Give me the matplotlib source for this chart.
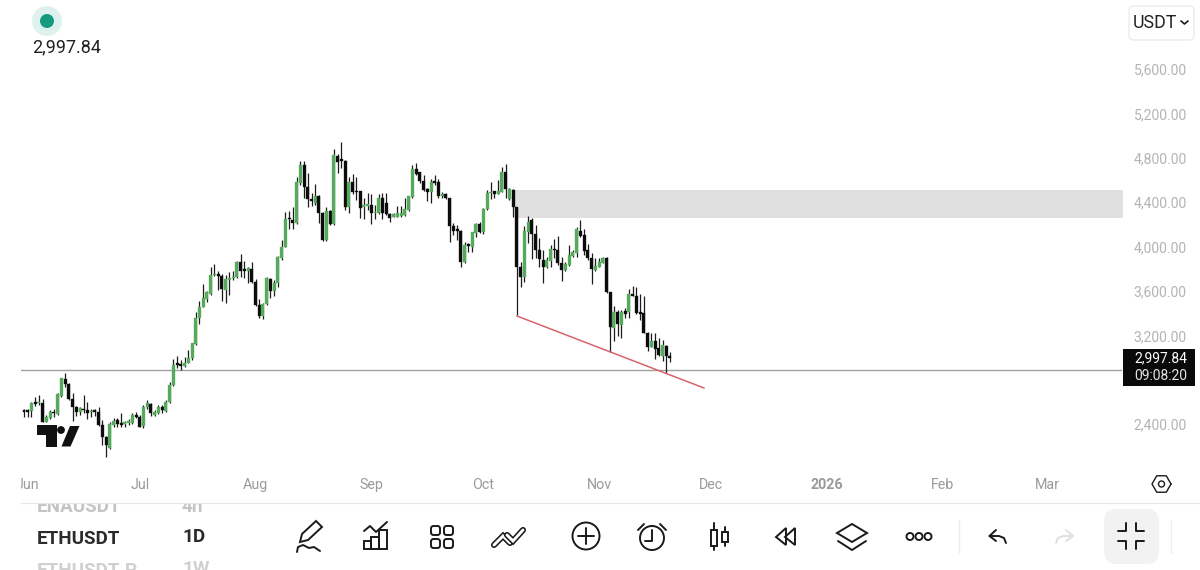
import numpy as np
import matplotlib
matplotlib.use("Agg")
import matplotlib.pyplot as plt
from matplotlib.patches import Circle, FancyBboxPatch, Polygon, Rectangle

plt.rcParams['font.family'] = ['Roboto', 'DejaVu Sans']

# ETHUSDT daily candles
opens = [2519,2519,2522,2594,2588,2594,2417,2453,2513,2492,
         2654,2804,2759,2624,2558,2513,2534,2528,2507,2522,
         2507,2393,2282,2183,2393,2438,2408,2402,2408,2414,
         2483,2468,2384,2552,2582,2483,2504,2552,2522,2597,
         2753,2942,2942,2924,2954,2995,3124,3355,3460,3529,
         3574,3742,3751,3739,3610,3700,3715,3724,3859,3790,
         3784,3799,3685,3475,3376,3484,3706,3601,3670,3895,
         4000,4255,4240,4210,4576,4735,4534,4429,4396,4459,
         4300,4060,4321,4204,4816,4780,4774,4354,4585,4501,
         4501,4354,4366,4375,4300,4306,4435,4396,4294,4264,
         4270,4276,4285,4330,4444,4699,4675,4594,4516,4489,
         4585,4585,4459,4471,4435,4186,4150,4144,3859,4015,
         4000,4126,4201,4135,4336,4480,4501,4474,4495,4675,
         4429,4510,4360,3814,3730,4135,4240,4114,3970,3880,
         3820,3874,3976,3970,3856,3790,3835,3916,3940,4144,
         4105,3970,3895,3790,3820,3856,3895,3589,3265,3409,
         3295,3421,3415,3574,3556,3406,3400,3220,3100,3154,
         3085,3016,3109,3010]
closes = [2513,2510,2594,2582,2603,2423,2468,2513,2498,2672,
          2813,2759,2624,2558,2513,2543,2525,2498,2522,2510,
          2393,2282,2213,2402,2432,2402,2393,2414,2432,2483,
          2468,2378,2558,2588,2498,2513,2558,2528,2603,2753,
          2933,2933,2924,2954,2993,3130,3355,3460,3535,3589,
          3745,3751,3736,3616,3706,3721,3730,3865,3784,3781,
          3805,3685,3475,3376,3484,3715,3604,3676,3904,4000,
          4246,4246,4216,4585,4735,4534,4429,4411,4459,4300,
          4060,4321,4204,4825,4765,4771,4360,4585,4489,4489,
          4345,4375,4384,4300,4315,4435,4300,4294,4255,4294,
          4300,4300,4336,4456,4699,4651,4594,4510,4489,4585,
          4576,4459,4471,4435,4186,4144,4144,3859,4015,4006,
          4135,4201,4135,4339,4480,4495,4471,4504,4675,4516,
          4516,4360,3814,3730,4144,4225,4114,3970,3886,3814,
          3880,3976,3967,3856,3790,3844,3925,3955,4156,4099,
          3964,3895,3796,3826,3865,3895,3595,3274,3415,3304,
          3415,3394,3574,3556,3406,3397,3220,3100,3154,3079,
          3019,3115,3016,2992]
highs = [2534,2534,2603,2648,2663,2624,2483,2528,2534,2684,
         2813,2864,2768,2678,2564,2552,2663,2603,2534,2534,
         2552,2438,2294,2423,2453,2453,2504,2432,2444,2504,
         2513,2483,2573,2618,2588,2528,2573,2573,2618,2777,
         2987,3014,2978,3002,3068,3136,3415,3511,3664,3601,
         3814,3844,3784,3754,3745,3775,3784,3874,3934,3874,
         3820,3865,3706,3526,3496,3724,3715,3700,3916,4060,
         4315,4321,4354,4624,4774,4774,4660,4480,4564,4465,
         4315,4360,4330,4876,4834,4945,4780,4624,4654,4624,
         4504,4435,4486,4474,4375,4474,4480,4480,4300,4300,
         4366,4366,4441,4456,4735,4756,4675,4645,4525,4606,
         4645,4606,4495,4480,4441,4210,4195,4150,4045,4030,
         4135,4216,4225,4345,4510,4579,4501,4600,4714,4741,
         4525,4516,4360,3865,4186,4276,4255,4195,4075,3970,
         3904,4015,4069,4096,3910,3865,4015,3970,4180,4240,
         4156,4024,3940,3895,3895,3904,3904,3595,3466,3430,
         3430,3445,3616,3646,3634,3574,3556,3235,3220,3220,
         3175,3160,3115,3049]
lows = [2468,2468,2468,2564,2573,2423,2417,2444,2468,2483,
        2648,2738,2618,2432,2474,2483,2498,2444,2468,2474,
        2384,2213,2102,2177,2372,2378,2378,2372,2393,2402,
        2453,2372,2363,2534,2474,2474,2492,2504,2513,2588,
        2744,2903,2888,2918,2948,2980,3115,3301,3454,3505,
        3565,3736,3610,3514,3496,3565,3700,3715,3730,3715,
        3670,3670,3466,3355,3346,3475,3535,3556,3640,3880,
        3994,4156,4156,4204,4555,4435,4354,4366,4375,4210,
        4054,4054,4195,4195,4660,4705,4330,4300,4474,4420,
        4255,4246,4330,4204,4246,4294,4246,4285,4225,4264,
        4264,4270,4276,4324,4435,4645,4570,4504,4414,4396,
        4555,4435,4435,4426,4045,4105,4060,3814,3856,3955,
        3955,4084,4120,4114,4330,4426,4435,4474,4489,4435,
        4420,4264,3385,3634,3685,4030,3886,3895,3814,3670,
        3805,3820,3895,3835,3694,3784,3826,3904,3910,4090,
        3925,3880,3664,3784,3814,3850,3586,3049,3154,3196,
        3181,3355,3355,3556,3394,3340,3220,3061,3094,2989,
        3010,2965,2860,2956]

# candle number of the first day of each month
month_days = [1, 31, 62, 93, 123, 154, 184, 215, 246, 274]
month_labels = ['Jun', 'Jul', 'Aug', 'Sep', 'Oct', 'Nov', 'Dec', '2026', 'Feb', 'Mar']
# 2,800 sits behind the price label in the screenshot
price_ticks = [2400, 3200, 3600, 4000, 4400, 4800, 5200, 5600]
price_labels = ['2,400.00', '3,200.00', '3,600.00', '4,000.00',
                '4,400.00', '4,800.00', '5,200.00', '5,600.00']

# drawings on the chart
zone_start = 131.5
zone_low, zone_high = 4261, 4510
hline_price = 2888
trend_days = [132, 182.1]
trend_prices = [3375, 2726]

GREEN = '#56aa5c'
BLACK = '#0c0c0c'

fig = plt.figure(figsize=(12, 5.7), dpi=100, facecolor='white')
ax = fig.add_axes([21/1200, 100/570, 1101/1200, 470/570])
ax.set_xlim(-0.803, 294.05)
ax.set_ylim(1987.4, 6221.6)
for s in ax.spines.values():
    s.set_visible(False)

ax.fill_between([zone_start, 295], zone_low, zone_high, color='#e0e0e0', lw=0, zorder=1)
ax.axhline(hline_price, color='#a0a0a0', lw=1, zorder=1)

x = np.arange(len(opens))
o = np.array(opens)
c = np.array(closes)
ax.vlines(x, lows, highs, color='#1c1c1c', lw=0.9, zorder=2)
colors = [GREEN if b > a else BLACK for a, b in zip(opens, closes)]
ax.bar(x, np.maximum(np.abs(c - o), 14), bottom=np.minimum(o, c), width=0.8,
       color=colors, edgecolor=colors, lw=0.25, zorder=3)

ax.plot(trend_days, trend_prices, color='#d8636c', lw=1.1, zorder=4)

ax.set_xticks(month_days)
ax.set_xticklabels(month_labels, fontsize=10.3, color='#9a9a9a')
ax.get_xticklabels()[7].set_fontweight('bold')
ax.tick_params(axis='x', length=0, pad=6)
ax.yaxis.tick_right()
ax.set_yticks(price_ticks)
ax.set_yticklabels(price_labels, fontsize=10.1, color='#b4b4b4')
ax.tick_params(axis='y', length=0, pad=8.5)

# app chrome, in screen pixels
ui = fig.add_axes([0, 0, 1, 1], zorder=5)
ui.set_xlim(0, 1200)
ui.set_ylim(570, 0)
ui.axis('off')
ui.patch.set_alpha(0)


def stroke(xs, ys, color='#1a1a1a', lw=1.4):
    ui.plot(xs, ys, color=color, lw=lw, solid_capstyle='round', solid_joinstyle='round')


def ring(cx, cy, r, color='#1a1a1a', lw=1.4):
    ui.add_patch(Circle((cx, cy), r, fill=False, ec=color, lw=lw))


def hollow(xs, ys):
    ui.plot(xs, ys, color='#1a1a1a', lw=4.4, solid_capstyle='round', solid_joinstyle='miter')
    ui.plot(xs, ys, color='white', lw=2.1, solid_capstyle='round', solid_joinstyle='miter')


ui.add_patch(Rectangle((0, 470), 21, 32, color='white', lw=0))
ui.add_patch(Rectangle((0, 495), 1200, 8, color='white', lw=0, zorder=3))

# TradingView logo
ui.add_patch(Polygon([(37, 425), (57, 425), (57, 447), (46, 447), (46, 435), (37, 435)], color='#111111', lw=0))
ui.add_patch(Circle((61, 430), 3.9, color='#111111', lw=0))
ui.add_patch(Polygon([(70, 426), (79.5, 426), (70.5, 446.5), (61.5, 446.5)], color='#111111', lw=0))

# header
ui.add_patch(Circle((47, 21), 15, color='#dff1ee', lw=0))
ui.add_patch(Circle((47, 21), 7, color='#159a80', lw=0))
ui.text(32, 47, '2,997.84', fontsize=13, color='#222222', va='center', ha='left')
ui.add_patch(FancyBboxPatch((1129, 6), 65, 34, boxstyle='round,pad=0,rounding_size=5',
                            fc='white', ec='#ececec', lw=1))
ui.text(1133, 22.5, 'USDT', fontsize=12.8, color='#222222', va='center', ha='left')
stroke([1181, 1184.5, 1188], [21, 24, 21], lw=1.2)

# price label
ui.add_patch(Rectangle((1123, 349), 72, 37, color='#0a0a0a', lw=0))
ui.text(1161, 358.5, '2,997.84', fontsize=10, color='white', va='center', ha='center')
ui.text(1161, 375.5, '09:08:20', fontsize=10, color='#e4e4e4', va='center', ha='center')

# settings hexagon
hex_a = np.deg2rad(np.arange(0, 361, 60))
stroke(1161.5 + 9.5*np.cos(hex_a), 484 + 9.5*np.sin(hex_a), lw=1)
ring(1161.5, 484, 3, lw=1)

# watchlist behind the toolbar
ui.text(37, 507, 'ENAUSDT', fontsize=13.6, fontweight='bold', color='#c4c4c4', va='center', ha='left', zorder=2)
ui.text(182, 507, '4h', fontsize=13.6, fontweight='bold', color='#c4c4c4', va='center', ha='left', zorder=2)
ui.text(37, 539, 'ETHUSDT', fontsize=13.6, fontweight='bold', color='#2b2b2b', va='center', ha='left')
ui.text(182, 537, '1D', fontsize=13.6, fontweight='bold', color='#2b2b2b', va='center', ha='left')
ui.text(37, 571, 'ETHUSDT.P', fontsize=13.6, fontweight='bold', color='#d0d0d0', va='center', ha='left')
ui.text(182, 569, '1W', fontsize=13.6, fontweight='bold', color='#d0d0d0', va='center', ha='left')
ui.plot([21, 1200], [502.5, 502.5], color='#e8e8e8', lw=0.9, zorder=4)

# pencil
ui.add_patch(Polygon([(300, 542), (302, 534), (316, 521), (322, 527), (308, 540)], fill=False, ec='#1a1a1a', lw=1.4))
stroke([297, 298, 303, 309, 314, 320], [552, 547, 545, 548, 547, 551])

# indicators
stroke([364, 370, 376, 387], [531, 526, 532, 522])
for bx, btop in [(363.5, 541), (371, 537), (379, 530)]:
    ui.add_patch(Rectangle((bx, btop), 7.5, 549 - btop, fill=False, ec='#1a1a1a', lw=1.4))

# templates
for gx in (431, 444):
    for gy in (526, 539):
        ui.add_patch(FancyBboxPatch((gx, gy), 9, 9, boxstyle='round,pad=0,rounding_size=2.5',
                                    fill=False, ec='#1a1a1a', lw=1.4))

# compare
hollow([494, 503, 510], [545, 536, 543])
hollow([507, 513, 523], [535, 541, 530])

# add
ring(586, 536, 13.5)
stroke([578, 594], [536, 536])
stroke([586, 586], [528, 544])

# alarm
ring(652, 538, 12)
stroke([652, 652, 645], [530, 541, 541])
stroke([638, 644], [530, 524])
stroke([660, 666], [524, 530])

# candle type
stroke([714, 714], [523, 530])
stroke([714, 714], [546, 550])
ui.add_patch(Rectangle((711, 530), 6, 16, fill=False, ec='#1a1a1a', lw=1.4))
stroke([725, 725], [527, 532])
stroke([725, 725], [542, 546])
ui.add_patch(Rectangle((722, 532), 6, 10, fill=False, ec='#1a1a1a', lw=1.4))

# replay
ui.add_patch(Polygon([(776, 537), (786, 528), (786, 545)], fill=False, ec='#1a1a1a', lw=1.4))
ui.add_patch(Polygon([(785, 537), (795, 528), (795, 545)], fill=False, ec='#1a1a1a', lw=1.4))

# layers
ui.add_patch(Polygon([(852, 524), (867, 533), (852, 542), (837, 533)], fill=False, ec='#1a1a1a', lw=1.4))
stroke([838, 852, 866], [541, 550, 541])

# more
for dx in (910, 919, 928):
    ring(dx, 536.5, 3.5)

# undo, redo, full screen
ui.plot([959, 959], [520, 553], color='#eeeeee', lw=1)
stroke([996, 989.5, 996], [530, 536, 541])
stroke([989.5, 999, 1004, 1006], [536, 536, 538, 543])
stroke([1066, 1073, 1066], [530, 536, 541], color='#e0e0e0')
stroke([1073, 1063, 1058, 1056], [536, 536, 538, 543], color='#e0e0e0')
ui.add_patch(FancyBboxPatch((1104, 509), 55, 55, boxstyle='round,pad=0,rounding_size=13',
                            fc='#f2f2f2', ec='none'))
stroke([1118, 1126, 1126], [531, 531, 523])
stroke([1136, 1136, 1144], [523, 531, 531])
stroke([1118, 1126, 1126], [541, 541, 549])
stroke([1136, 1136, 1144], [549, 541, 541])
ui.plot([1171, 1171], [520, 553], color='#eeeeee', lw=1)

fig.savefig('out.png', dpi=100)
